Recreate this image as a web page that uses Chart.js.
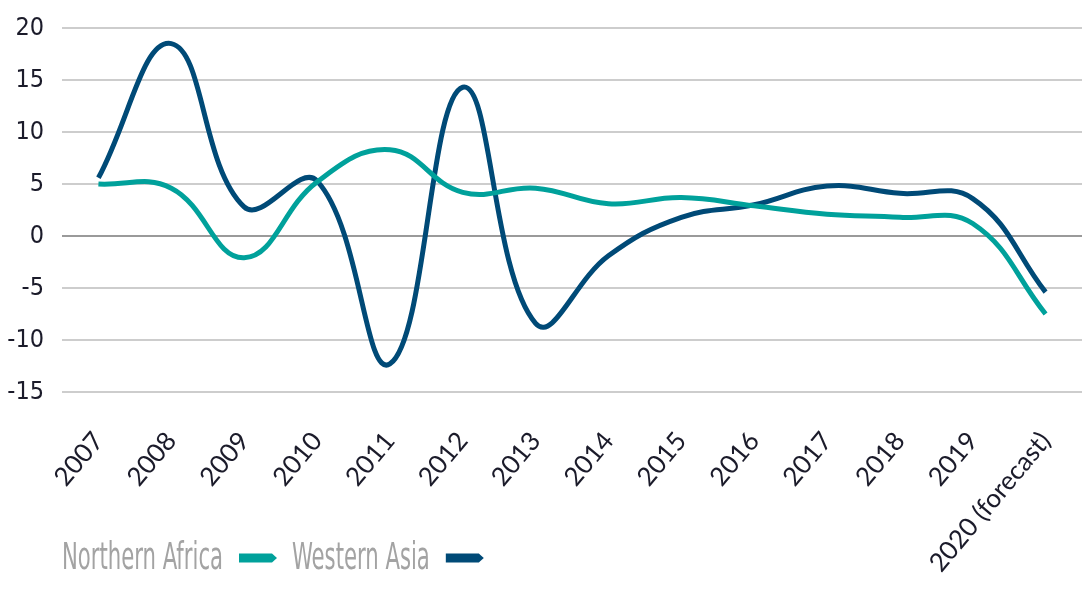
<!DOCTYPE html>
<html><head><meta charset="utf-8">
<script src="https://cdn.jsdelivr.net/npm/chart.js@4.4.1/dist/chart.umd.min.js"></script>
<style>html,body{margin:0;padding:0;background:#fff;} #wrap{width:1082px;height:592px;position:relative;}</style>
</head><body><div id="wrap"><canvas id="c"></canvas></div>
<script>
const categories = ['2007','2008','2009','2010','2011','2012','2013','2014','2015','2016','2017','2018','2019','2020 (forecast)'];
const northernAfrica = [5.0, 4.6, -2.1, 5.2, 8.3, 4.2, 4.6, 3.1, 3.7, 2.9, 2.1, 1.8, 1.2, -7.5];
const westernAsia = [5.6, 18.5, 2.8, 5.3, -12.3, 14.3, -8.4, -1.9, 1.8, 3.0, 4.8, 4.1, 3.6, -5.4];
const seriesNames = ['Northern Africa', 'Western Asia'];
const seriesColors = ['#00a19b', '#004a77'];
const yMin = -15, yMax = 20, yStep = 5;

const legendPlugin = {
  id: 'customLegend',
  afterDraw(chart) {
    const ctx = chart.ctx;
    ctx.save();
    ctx.font = '37px "DejaVu Sans Condensed", "DejaVu Sans", sans-serif';
    ctx.textBaseline = 'alphabetic';
    const sx = 161 / ctx.measureText(chart.data.datasets[0].label).width;
    let x = 62;
    const base = 569, my = 558;
    chart.data.datasets.forEach((ds) => {
      ctx.save();
      ctx.translate(x, base);
      ctx.scale(sx, 1);
      ctx.fillStyle = '#a3a3a3';
      ctx.fillText(ds.label, 0, 0);
      const w = ctx.measureText(ds.label).width * sx;
      ctx.restore();
      x += w + 16;
      ctx.fillStyle = ds.borderColor;
      ctx.beginPath();
      ctx.moveTo(x, my - 4.5);
      ctx.lineTo(x + 33, my - 4.5);
      ctx.lineTo(x + 38, my);
      ctx.lineTo(x + 33, my + 4.5);
      ctx.lineTo(x, my + 4.5);
      ctx.closePath();
      ctx.fill();
      x += 38 + 15;
    });
    ctx.restore();
  }
};

new Chart(document.getElementById('c'), {
  type: 'line',
  data: {
    labels: categories,
    datasets: [
      { label: seriesNames[0], data: northernAfrica, borderColor: seriesColors[0], backgroundColor: seriesColors[0], borderWidth: 5, pointRadius: 0, tension: 0.42, fill: false },
      { label: seriesNames[1], data: westernAsia, borderColor: seriesColors[1], backgroundColor: seriesColors[1], borderWidth: 5, pointRadius: 0, tension: 0.42, fill: false }
    ]
  },
  options: {
    responsive: true,
    maintainAspectRatio: false,
    animation: false,
    layout: { padding: { top: 28, right: 0, bottom: 0, left: 0 } },
    plugins: { legend: { display: false }, tooltip: { enabled: false } },
    scales: {
      x: {
        offset: true,
        grid: { display: false },
        border: { display: false },
        ticks: {
          autoSkip: false, maxRotation: 50, minRotation: 50, padding: 26,
          color: '#1b1b2a',
          font: { family: 'Lato, "Open Sans", sans-serif', size: 26 }
        },
        afterFit(s) { s.height = 200; s.paddingLeft = 0; s.paddingRight = 0; }
      },
      y: {
        min: yMin, max: yMax,
        border: { display: false },
        grid: {
          color: (c) => c.tick && c.tick.value === 0 ? '#9a9a9a' : '#cdcdcd',
          lineWidth: 2, drawTicks: false
        },
        ticks: {
          stepSize: yStep, padding: 18,
          color: '#1b1b2a',
          font: { family: '"DejaVu Sans Condensed", "DejaVu Sans", sans-serif', size: 25 }
        },
        afterFit(s) { s.width = 62; s.paddingTop = 0; s.paddingBottom = 0; }
      }
    }
  },
  plugins: [legendPlugin]
});
</script></body></html>
